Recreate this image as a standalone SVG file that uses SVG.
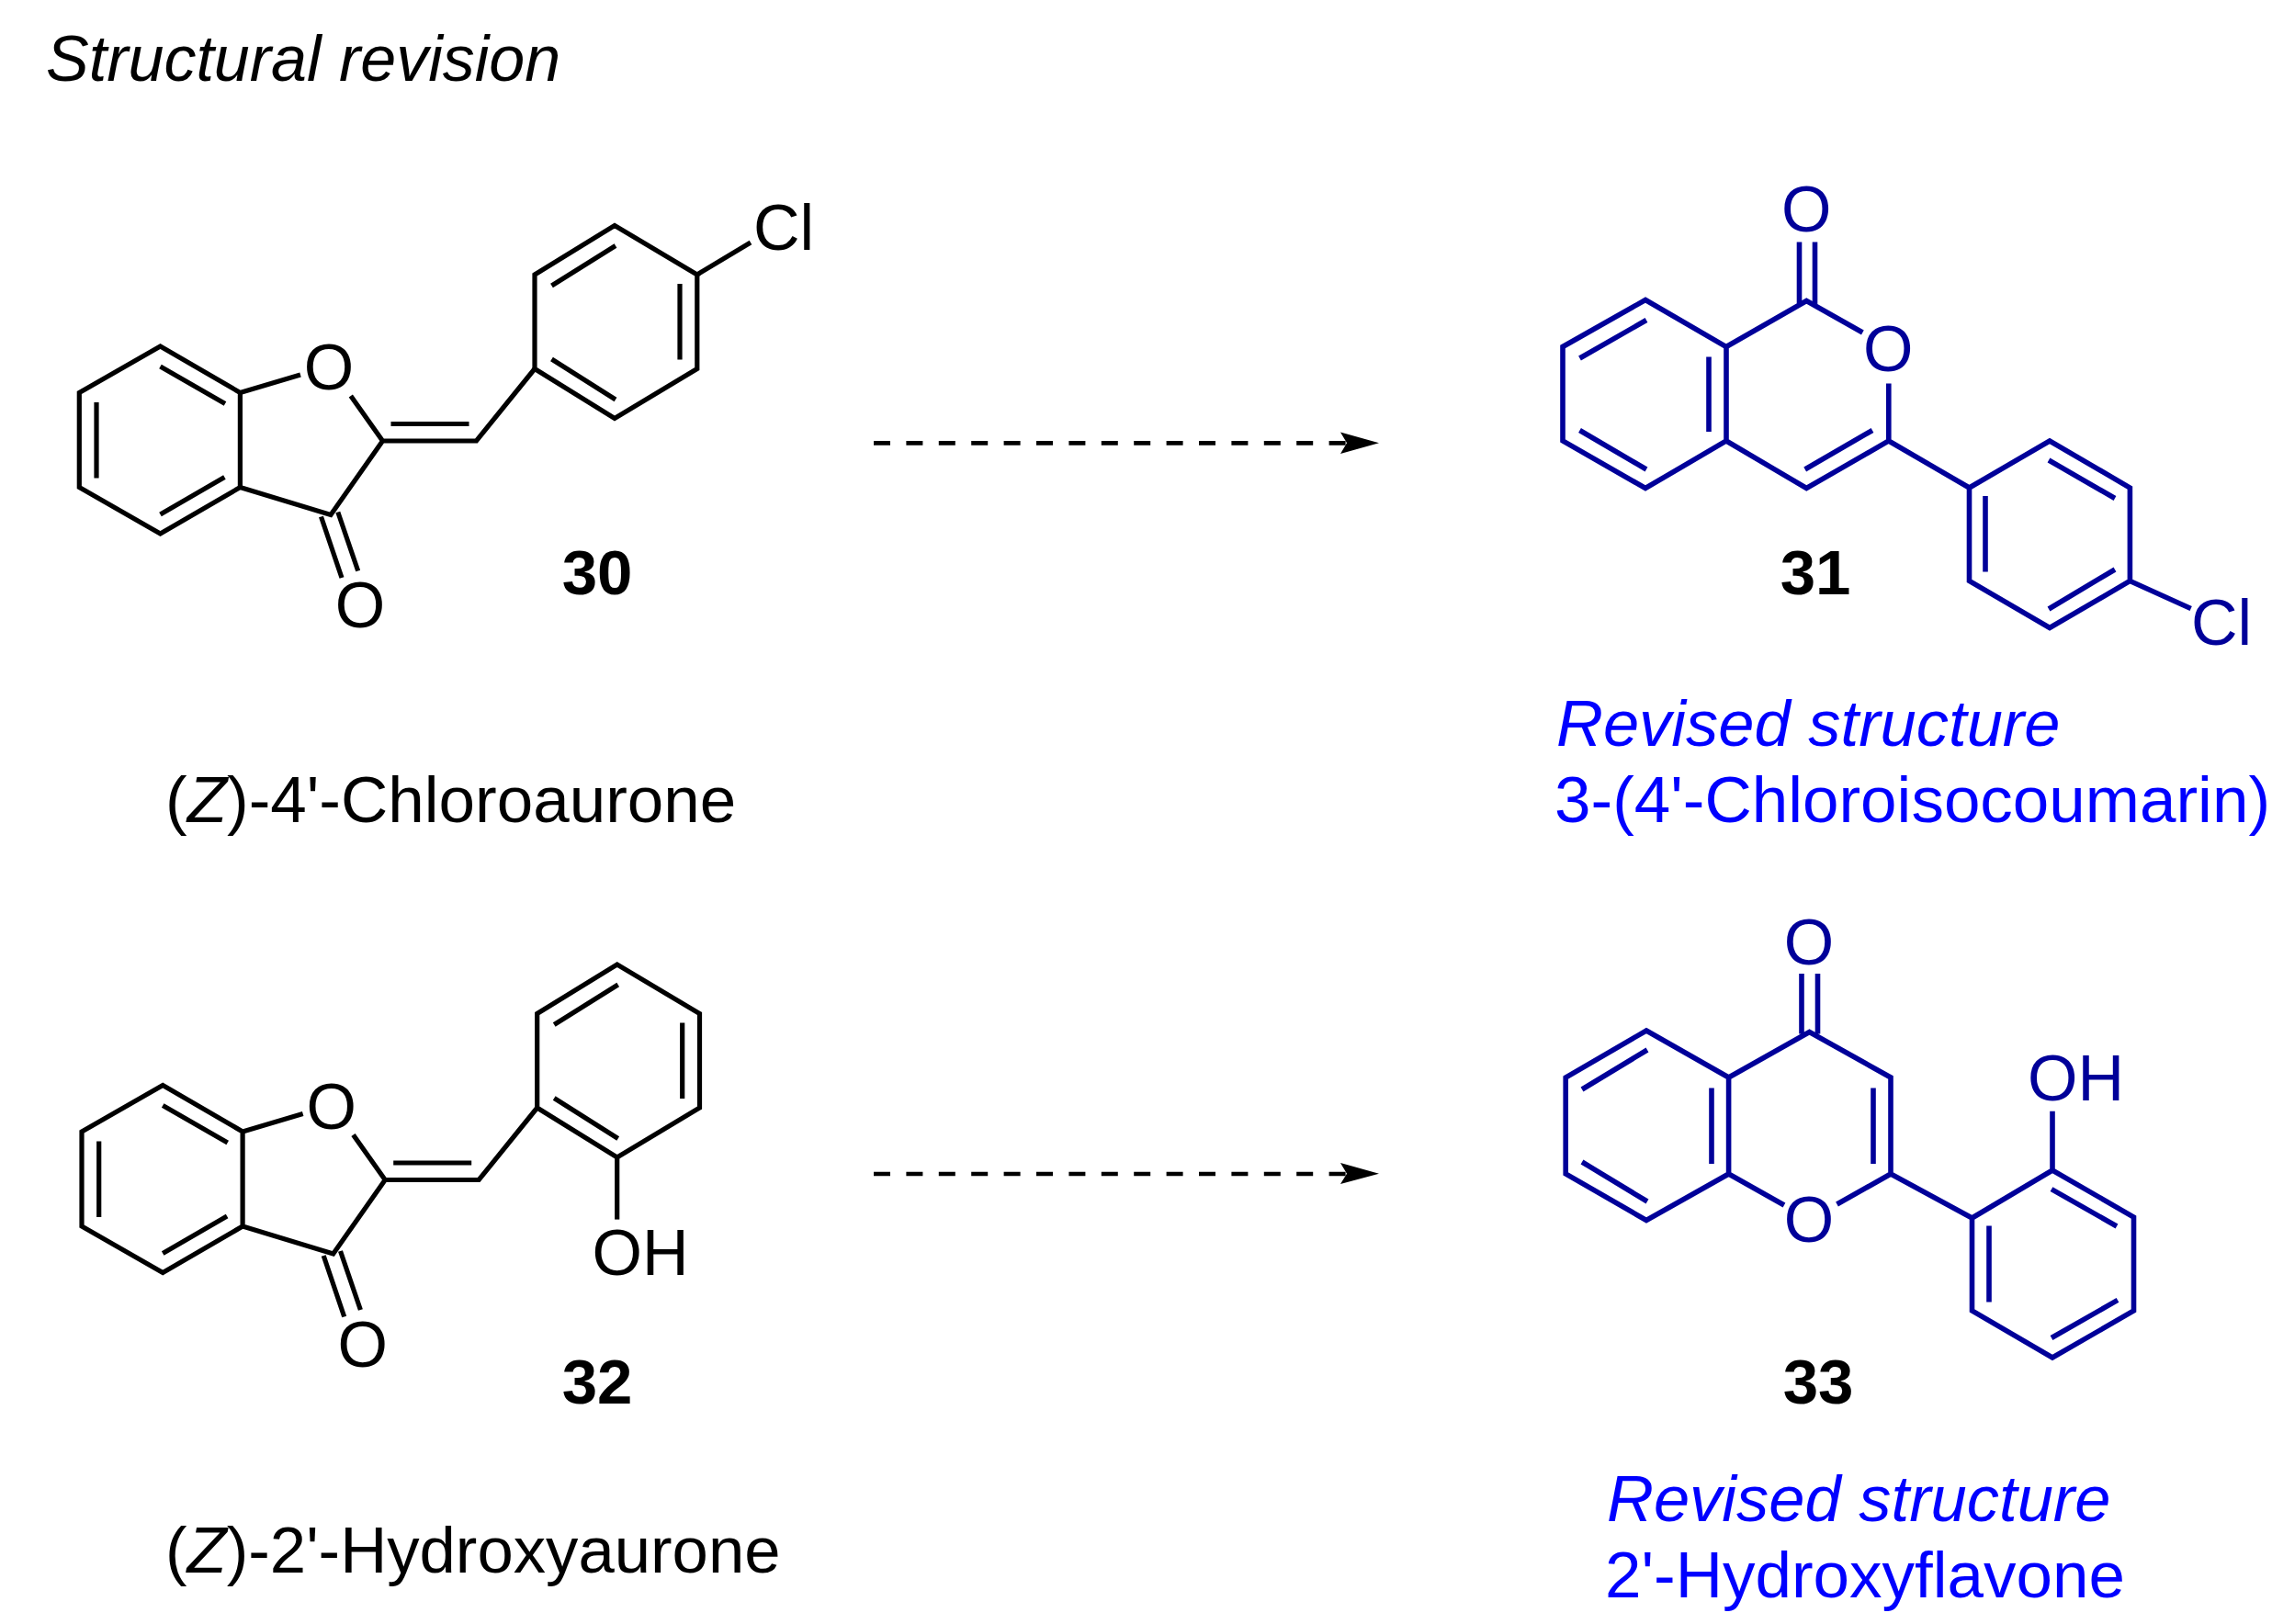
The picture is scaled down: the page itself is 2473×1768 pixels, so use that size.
<svg xmlns="http://www.w3.org/2000/svg" width="2473" height="1768" viewBox="0 0 2473 1768">
<defs>
<style>
text{font-family:"Liberation Sans",Arial,sans-serif;font-size:70px}
.k{fill:#000}.d{fill:#000099}.b{fill:#0000ff}
.i{font-style:italic}.n{font-weight:700;font-size:69px;text-anchor:middle}
.m{text-anchor:middle}.t{font-size:71px}.r{font-size:70.5px}.h{font-size:70.7px}
.bk{fill:none;stroke:#000;stroke-width:5.2;stroke-linejoin:miter}
.bd{fill:none;stroke:#000099;stroke-width:5.6;stroke-linejoin:miter}
.arr{stroke:#000;stroke-width:4.7;stroke-dasharray:18 17.4;fill:none}
</style>
<g id="aurone-core">
<path class="bk" d="M174.5 377L261.4 427.5V530.5L174.5 581L86.3 530.5V427.5ZM174.5 399L245 439.5M105 438V520.5M174.5 560L244.4 519.5M261.4 427.5L327 408M381.8 431L416.5 480L360 560.5L261.4 530.5M349.5 562.5L372 629M367.8 557.5L389.7 621.5M416.5 480H518.5L582 401.5M425.5 461.5H510.5"/>
<path class="bk" d="M582 401.5V299L669 245.5L758.8 299V401.5L669 455.5ZM600.5 311L670 267.5M740 309V391.5M600.5 391L670 435"/>
<text class="k m" x="358" y="424">O</text>
<text class="k m" x="392" y="683">O</text>
</g>
</defs>
<rect width="2473" height="1768" fill="#fff"/>
<text class="k i" x="50" y="88">Structural revision</text>
<g id="connectors">
<path class="arr" d="M951 482.3H1470"/><path d="M1459 470.5L1501 482.3L1459 494L1466 482.3Z" fill="#000"/>
<path class="arr" d="M951 1278H1470"/><path d="M1459 1266L1501 1277.7L1459 1289L1466 1277.7Z" fill="#000"/>
</g>
<g id="node-30">
<use href="#aurone-core"/>
<path class="bk" d="M758.8 299L817 264"/>
<text class="k" x="820" y="272">Cl</text>
<text class="k n" x="650" y="647">30</text>
<text class="k t" x="180" y="895">(<tspan class="i">Z</tspan>)-4'-Chloroaurone</text>
</g>
<g id="node-31">
<path class="bd" d="M1791 326.5L1879 377.5V480L1791 531.5L1701 480V377.5ZM1719.5 390L1792 348.5M1860 388.5V470M1719.5 468.5L1792 511M1879 377.5L1966.3 327.5L2027.4 362M2055.8 417.5V480L1966.3 531.5L1879 480M1964.7 511L2038 468.5M1958.5 263.5V331M1975.5 263.5V331M2055.8 480L2143.5 531M2143.5 531L2231 480L2318.4 531V632.5L2231 683.5L2143.5 632.5ZM2161 540V622.5M2230 663L2302 620M2230 501L2302 542.5M2318.4 632.5L2384.7 662.5"/>
<text class="d m" x="1966.3" y="252">O</text>
<text class="d m" x="2055.3" y="404">O</text>
<text class="d" x="2385" y="702">Cl</text>
<text class="k n" x="1976" y="647">31</text>
<text class="b i r" x="1694" y="812">Revised structure</text>
<text class="b t" x="1692" y="894.5">3-(4'-Chloroisocoumarin)</text>
</g>
<g id="node-32">
<use href="#aurone-core" transform="translate(2.7 804.5)"/>
<path class="bk" d="M671.7 1260V1327.6"/>
<text class="k" x="644.5" y="1388">OH</text>
<text class="k n" x="650" y="1528">32</text>
<text class="k h" x="180" y="1711.5">(<tspan class="i">Z</tspan>)-2'-Hydroxyaurone</text>
</g>
<g id="node-33">
<path class="bd" d="M1792 1122L1881.6 1173V1278L1792 1328.5L1704.2 1278V1173ZM1722 1186L1793 1143M1863 1184.5V1267M1722 1265L1793 1308M1881.6 1173L1969.5 1123.5L2058 1173V1278L1999.5 1311M1881.6 1278L1942 1312M2039 1184.5V1267M1961 1060V1125.5M1978.5 1060V1125.5M2058 1278L2146.5 1326M2146.5 1326L2234 1274L2322.5 1325V1427L2234 1478L2146.5 1427ZM2165 1334.5V1417.4M2233 1456.5L2305 1415.4M2233 1294.6L2304 1335M2234 1274V1209.8"/>
<text class="d m" x="1969" y="1050">O</text>
<text class="d m" x="1969" y="1352">O</text>
<text class="d" x="2207" y="1198">OH</text>
<text class="k n" x="1979" y="1528">33</text>
<text class="b i r" x="1749" y="1656">Revised structure</text>
<text class="b t" x="1747" y="1738.5">2'-Hydroxyflavone</text>
</g>
</svg>
